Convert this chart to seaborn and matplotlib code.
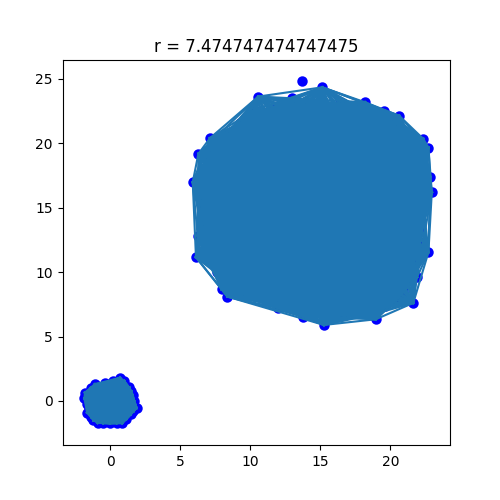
import numpy as np
import matplotlib
matplotlib.use("Agg")
import matplotlib.pyplot as plt
import seaborn as sns

r = 7.474747474747475

# big cluster: outline first, then the inside
big_x = [15.14, 12.95, 10.57, 18.19, 19.57, 20.62, 22.36, 22.72, 22.84, 22.96, 22.72, 21.64,
         18.96, 15.26, 13.79, 8.36, 7.96, 6.12, 6.24, 5.89, 6.29, 7.12,
         12.1, 14.6, 16.8, 18.9, 10.3, 13.2, 15.7, 17.9, 20.1, 8.8, 11.2, 13.9, 16.2, 18.6, 20.9,
         7.6, 9.7, 12.4, 14.8, 17.1, 19.3, 21.6, 6.9, 8.9, 11.1, 13.5, 15.9, 18.2, 20.4, 22.1,
         6.6, 8.2, 10.4, 12.8, 14.9, 17.4, 19.7, 21.8, 6.8, 9.1, 11.6, 14.1, 16.5, 18.8, 21.1, 22.2,
         7.2, 9.6, 12.0, 14.4, 16.9, 19.2, 21.4, 8.6, 10.9, 13.3, 15.6, 18.0, 20.2,
         10.1, 12.6, 15.0, 17.3, 19.6, 12.2, 14.3, 16.4, 18.5, 9.2, 20.8, 7.9, 21.9,
         # ring just inside the outline
         11.6, 13.8, 16.4, 17.6, 19.0, 20.2, 21.3, 22.0, 22.1, 22.2, 22.1, 22.0, 21.6, 21.2, 20.9,
         20.4, 19.6, 17.9, 16.6, 14.6, 12.5, 11.0, 9.8, 8.9, 7.6, 6.9, 6.9, 6.7, 6.6, 6.6, 6.9, 7.4, 8.5, 9.3, 10.3,
         # second fill
         11.5, 13.1, 15.4, 17.2, 19.0, 21.2, 9.4, 11.9, 14.2, 16.0, 18.3, 20.6, 7.4, 10.0, 12.7, 15.3, 17.7, 20.0,
         21.9, 7.0, 9.0, 11.3, 13.7, 16.2, 18.5, 20.9, 7.8, 10.5, 12.9, 15.2, 17.5, 19.9, 22.0, 8.0, 10.6, 13.0,
         15.5, 17.8, 20.3, 21.5, 9.8, 12.3, 14.7, 17.0, 19.4, 21.0, 11.0, 13.6, 16.1, 18.4, 20.5, 12.0, 14.0, 16.7, 18.7]
big_y = [24.35, 23.5, 23.63, 23.19, 22.54, 22.15, 20.34, 19.67, 17.41, 16.2, 11.55, 7.61,
         6.34, 5.9, 6.55, 8.1, 8.67, 11.16, 12.83, 16.98, 19.18, 20.4,
         22.4, 22.7, 22.2, 21.8, 21.2, 21.3, 20.9, 20.6, 20.8, 19.9, 19.7, 20.1, 19.4, 19.8, 19.1,
         18.6, 18.2, 18.5, 18.0, 18.4, 17.9, 18.3, 17.1, 16.7, 16.9, 16.4, 16.8, 16.3, 16.6, 15.9,
         15.1, 15.5, 14.9, 15.2, 14.7, 15.0, 14.6, 14.4, 13.4, 13.7, 13.3, 13.6, 13.1, 13.5, 12.9, 13.2,
         11.9, 12.1, 11.7, 11.9, 11.5, 11.8, 11.2, 10.4, 10.2, 10.5, 10.0, 10.3, 9.9,
         8.9, 8.6, 8.9, 8.4, 8.6, 7.5, 7.7, 7.2, 7.4, 9.7, 8.3, 10.6, 9.6,
         # ring just inside the outline
         22.7, 23.0, 23.1, 22.7, 22.0, 21.4, 20.6, 19.6, 18.0, 15.3, 14.0, 12.4, 10.9, 9.5, 8.5,
         7.8, 7.4, 6.9, 6.8, 7.0, 7.6, 8.0, 8.4, 8.8, 10.0, 11.0, 13.9, 15.0, 16.0, 17.9, 18.7, 19.6, 20.8, 21.6, 22.6,
         # second fill
         21.4, 21.8, 21.6, 21.1, 21.3, 20.2, 20.3, 20.7, 19.0, 19.5, 19.2, 19.6, 17.6, 17.3, 17.7, 17.2, 17.6, 17.2,
         17.0, 15.9, 15.0, 15.7, 15.6, 15.3, 15.2, 15.0, 14.2, 14.3, 14.1, 14.4, 13.9, 14.1, 12.2, 12.9, 12.5, 12.7,
         12.4, 12.6, 12.2, 10.2, 11.1, 10.9, 11.2, 10.7, 10.9, 10.8, 9.4, 9.6, 9.3, 9.2, 9.0, 7.2, 8.1, 6.9, 6.7]

# one point above the big cluster with no lines on it
lone_x = [13.71]
lone_y = [24.82]

small_x = [0.69, -1.09, -1.8, -1.85, -1.55, -1.35, -0.9, -0.02, 0.85, 1.45, 1.88, 1.6, 1.35, 1.0, -0.38, 0.21,
           -1.4, -1.65, -1.65, -1.2, -0.5, 0.45, 1.15, 1.65, 1.7, 1.5,
           -1.0, 0.0, 1.0, -0.6, 0.4, -1.1, 0.1, 1.1, -0.3, 0.7]
small_y = [1.8, 1.3, 0.65, 0.2, -0.55, -1.25, -1.7, -1.75, -1.72, -1.05, -0.55, 0.45, 1.05, 1.55, 1.42, 1.55,
           1.0, -0.2, -0.9, -1.5, -1.72, -1.72, -1.4, -0.8, 0.0, 0.75,
           0.8, 0.9, 0.7, 0.1, 0.2, -0.4, -0.5, -0.2, -1.1, -1.0]


def draw_edges(ax, xs, ys):
    for i in range(len(xs)):
        for j in range(i + 1, len(xs)):
            if np.hypot(xs[i] - xs[j], ys[i] - ys[j]) < r:
                ax.plot([xs[i], xs[j]], [ys[i], ys[j]], color="C0")


fig, ax = plt.subplots(figsize=(5, 5), dpi=100)

sns.scatterplot(x=big_x + lone_x + small_x, y=big_y + lone_y + small_y,
                color="blue", edgecolor="blue", s=36, linewidth=1.5, ax=ax)
draw_edges(ax, big_x, big_y)
draw_edges(ax, small_x, small_y)

ax.set_xlim(-3.41, 24.26)
ax.set_ylim(-3.42, 26.47)
ax.set_title(f"r = {r}")

plt.savefig("out.png")
